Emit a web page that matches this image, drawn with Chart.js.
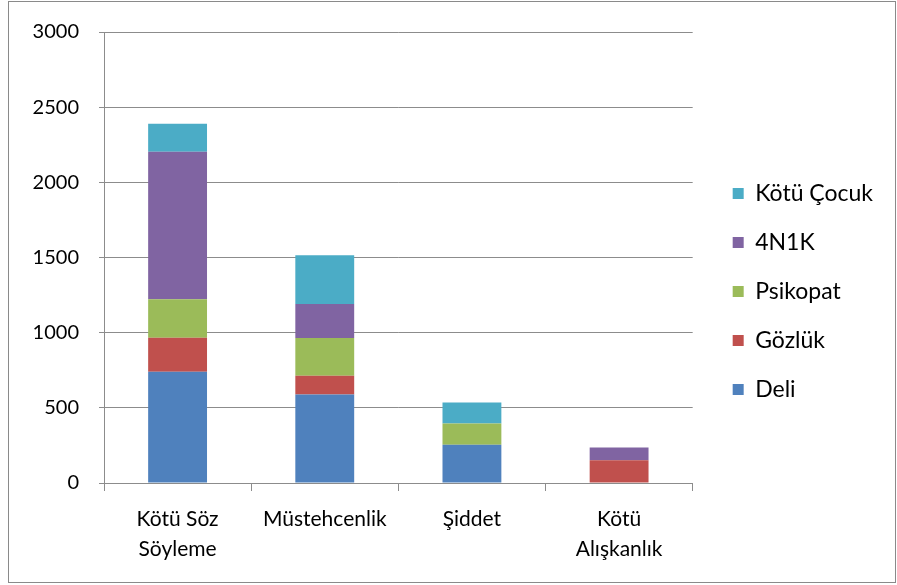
<!DOCTYPE html>
<html>
<head>
<meta charset="utf-8">
<script src="https://cdn.jsdelivr.net/npm/chart.js@4.4.1/dist/chart.umd.min.js"></script>
<style>
    html, body { margin: 0; padding: 0; background: #fff; }
</style>
</head>
<body>
<canvas id="chart" width="897" height="585"></canvas>
<script>
// Categories (multi-line labels)
const categories = [['Kötü Söz', 'Söyleme'], 'Müstehcenlik', 'Şiddet', ['Kötü', 'Alışkanlık']];

// Series values
const deli = [740, 589, 254, 0];
const gozluk = [227, 124, 0, 152];
const psikopat = [256, 252, 141, 0];
const nonik = [980, 225, 0, 84];
const kotuCocuk = [187, 325, 141, 0];

const yTicks = [0, 500, 1000, 1500, 2000, 2500, 3000];

const FONT = 'Lato, "Open Sans", sans-serif';
const GRID = '#8c8c8c';

// Outer frame around the whole chart
const framePlugin = {
    id: 'frame',
    afterDraw(chart) {
        const ctx = chart.ctx;
        ctx.save();
        ctx.strokeStyle = '#8a8a8a';
        ctx.lineWidth = 1;
        ctx.strokeRect(8.5, 1.5, 887, 581);
        ctx.restore();
    }
};

// Nudge legend right and up a bit
const legendShift = {
    id: 'legendShift',
    afterLayout(chart) {
        const lg = chart.legend;
        if (lg) {
            lg.left += 14;
            lg.right += 14;
            lg.top -= 15;
            lg.bottom -= 15;
        }
    }
};

new Chart(document.getElementById('chart'), {
    type: 'bar',
    data: {
        labels: categories,
        datasets: [
            { label: 'Deli', data: deli, backgroundColor: '#4F81BD' },
            { label: 'Gözlük', data: gozluk, backgroundColor: '#C0504D' },
            { label: 'Psikopat', data: psikopat, backgroundColor: '#9BBB59' },
            { label: '4N1K', data: nonik, backgroundColor: '#8064A2' },
            { label: 'Kötü Çocuk', data: kotuCocuk, backgroundColor: '#4BACC6' }
        ]
    },
    options: {
        responsive: false,
        animation: false,
        layout: { padding: { left: 0, right: 28, top: 30, bottom: 2 } },
        datasets: { bar: { categoryPercentage: 1, barPercentage: 0.4 } },
        plugins: {
            tooltip: { enabled: false },
            legend: {
                position: 'right',
                reverse: true,
                labels: {
                    boxWidth: 11,
                    boxHeight: 11,
                    padding: 26,
                    color: '#000',
                    font: { family: FONT, size: 23 }
                }
            }
        },
        scales: {
            x: {
                stacked: true,
                afterFit(scale) { scale.height = 100; },
                grid: { offset: true, drawOnChartArea: false, drawTicks: true, tickLength: 8, color: GRID },
                border: { color: GRID },
                ticks: { color: '#000', padding: 13, font: { family: FONT, size: 21, lineHeight: 1.45 } }
            },
            y: {
                stacked: true,
                min: 0,
                max: 3000,
                afterFit(scale) { scale.width = 104; },
                afterBuildTicks(scale) { scale.ticks = yTicks.map(v => ({ value: v })); },
                grid: { color: GRID, tickLength: 5 },
                border: { color: GRID },
                ticks: {
                    color: '#000',
                    padding: 20,
                    font: { family: FONT, size: 20 },
                    callback: v => String(v)
                }
            }
        }
    },
    plugins: [framePlugin, legendShift]
});
</script>
</body>
</html>
